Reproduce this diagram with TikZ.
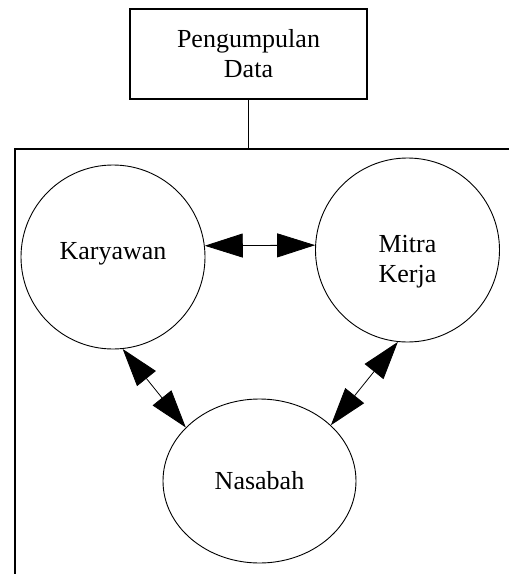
\documentclass[tikz,border=0pt]{standalone}
\usepackage{fontspec}
\setmainfont{Liberation Serif}
\usepackage{tikz}
\usetikzlibrary{arrows.meta, shapes.geometric}

\begin{document}
\begin{tikzpicture}[x=1pt, y=-1pt,
    every node/.style={font=\fontsize{26}{30}\selectfont, align=center, inner sep=0pt},
    kotak/.style={draw, line width=2.2pt, minimum width=237pt, minimum height=90pt},
    bulat/.style={draw, circle, line width=0.9pt, minimum size=184pt},
    relasi/.style={{Triangle[length=38pt,width=24pt]}-{Triangle[length=38pt,width=24pt]}, line width=0.8pt}]
  \useasboundingbox (0,0) rectangle (509,574);
  % kotak atas dan bingkai yang terpotong di kanan dan bawah
  \node[kotak] (data) at (248.5,54) {Pengumpulan\\Data};
  \coordinate (sudut) at (15,149);
  \draw[line width=1.2pt] (509,149) -- (sudut) -- (15,574);
  \draw[line width=1pt] (data.south) -- (data.south |- sudut);
  % tiga pihak
  \node[bulat, text height=17.7pt, text depth=13.7pt] (karyawan) at (113,257) {Karyawan};
  \node[bulat, text height=69.7pt, text depth=5.7pt] (mitra) at (407.5,250) {Mitra\\Kerja};
  \node[draw, ellipse, line width=0.9pt, minimum width=193pt, minimum height=164pt] (nasabah) at (259.5,481) {Nasabah};
  \draw[relasi] (karyawan.7.5) -- (mitra.177);
  \draw[relasi] (karyawan.-84) -- (nasabah.144);
  \draw[relasi] (mitra.-96) -- (nasabah.38.5);
\end{tikzpicture}
\end{document}
